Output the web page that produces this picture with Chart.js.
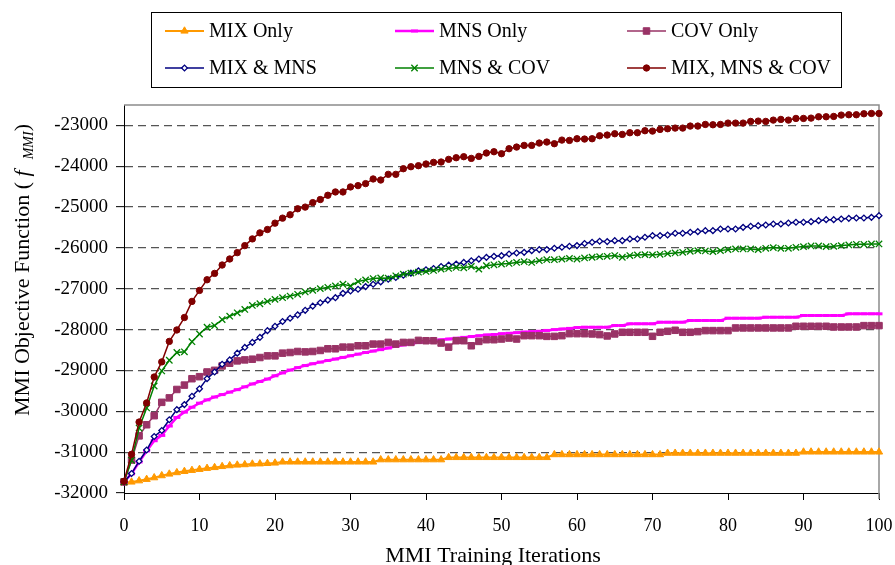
<!DOCTYPE html>
<html>
<head>
<meta charset="utf-8">
<title>MMI Objective Function</title>
<script src="https://cdn.jsdelivr.net/npm/chart.js@4.4.1/dist/chart.umd.min.js"></script>
<style>
  html, body { margin: 0; padding: 0; background: #fff; }
  #wrap { width: 895px; height: 565px; }
</style>
</head>
<body>
<div id="wrap"><canvas id="mmiChart" width="895" height="565"></canvas></div>
<script>
// --- data ---
const iterations = [];
for (let i = 0; i <= 100; i++) iterations.push(i);

const xTicks = [0, 10, 20, 30, 40, 50, 60, 70, 80, 90, 100];
const yTicks = [-32000, -31000, -30000, -29000, -28000, -27000, -26000, -25000, -24000, -23000];

const seriesNames = ['MIX Only', 'MNS Only', 'COV Only', 'MIX & MNS', 'MNS & COV', 'MIX, MNS & COV'];

const mixOnly = [
  -31750, -31730, -31700, -31665, -31625, -31575, -31535, -31500, -31470, -31445,
  -31420, -31395, -31375, -31350, -31330, -31315, -31305, -31290, -31285, -31275,
  -31265, -31240, -31240, -31240, -31240, -31240, -31240, -31240, -31240, -31240,
  -31240, -31240, -31240, -31240, -31185, -31185, -31185, -31185, -31185, -31185,
  -31185, -31185, -31185, -31130, -31130, -31130, -31130, -31130, -31130, -31130,
  -31130, -31130, -31130, -31130, -31130, -31130, -31130, -31060, -31060, -31060,
  -31060, -31060, -31060, -31060, -31060, -31060, -31060, -31060, -31060, -31060,
  -31060, -31060, -31025, -31025, -31025, -31025, -31025, -31025, -31025, -31025,
  -31025, -31025, -31025, -31025, -31025, -31025, -31025, -31025, -31025, -31025,
  -30995, -30995, -30995, -30995, -30995, -30995, -30995, -30995, -30995, -30995,
  -30995
];

const mnsOnly = [
  -31728, -31530, -31240, -30970, -30720, -30590, -30360, -30150, -30020, -29900,
  -29800, -29720, -29650, -29590, -29530, -29470, -29400, -29330, -29270, -29210,
  -29130, -29060, -28990, -28930, -28880, -28835, -28795, -28755, -28720, -28680,
  -28640, -28600, -28560, -28525, -28490, -28450, -28410, -28375, -28345, -28315,
  -28290, -28270, -28250, -28230, -28210, -28190, -28170, -28150, -28130, -28120,
  -28100, -28090, -28075, -28060, -28050, -28040, -28020, -28000, -27985, -27970,
  -27950, -27940, -27940, -27940, -27940, -27900, -27900, -27858, -27858, -27858,
  -27858, -27817, -27817, -27817, -27817, -27776, -27776, -27776, -27776, -27776,
  -27719, -27719, -27719, -27719, -27719, -27695, -27695, -27695, -27695, -27695,
  -27654, -27654, -27654, -27654, -27654, -27654, -27613, -27613, -27613, -27613,
  -27613
];

const covOnly = [
  -31728, -31193, -30601, -30329, -30107, -29780, -29671, -29465, -29358, -29202,
  -29152, -29037, -28996, -28889, -28823, -28765, -28741, -28724, -28683, -28642,
  -28642, -28576, -28560, -28535, -28545, -28535, -28510, -28469, -28469, -28428,
  -28428, -28395, -28395, -28354, -28354, -28313, -28354, -28313, -28313, -28263,
  -28272, -28272, -28329, -28428, -28272, -28272, -28395, -28288, -28247, -28247,
  -28230, -28206, -28230, -28148, -28148, -28148, -28165, -28165, -28148, -28099,
  -28099, -28100, -28106, -28122, -28155, -28106, -28065, -28065, -28065, -28065,
  -28163, -28065, -28041, -28016, -28065, -28065, -28049, -28024, -28024, -28024,
  -28024, -27959, -27959, -27959, -27959, -27959, -27959, -27959, -27959, -27918,
  -27918, -27918, -27918, -27918, -27935, -27935, -27935, -27935, -27902, -27902,
  -27902
];

const mixMns = [
  -31728, -31523, -31222, -30947, -30617, -30469, -30206, -29959, -29835, -29630,
  -29449, -29200, -29037, -28848, -28741, -28576, -28436, -28313, -28189, -28025,
  -27918, -27802, -27720, -27638, -27527, -27424, -27342, -27276, -27218, -27111,
  -27053, -27012, -26946, -26889, -26831, -26765, -26724, -26667, -26617, -26560,
  -26535, -26502, -26453, -26420, -26395, -26354, -26313, -26272, -26230, -26206,
  -26189, -26148, -26123, -26107, -26066, -26041, -26041, -26008, -25984, -25959,
  -25942, -25890, -25861, -25837, -25845, -25821, -25821, -25780, -25780, -25739,
  -25698, -25698, -25682, -25641, -25641, -25617, -25601, -25576, -25576, -25535,
  -25535, -25535, -25495, -25470, -25454, -25438, -25413, -25413, -25389, -25372,
  -25372, -25356, -25332, -25307, -25307, -25291, -25275, -25266, -25266, -25250,
  -25209
];

const mnsCov = [
  -31730, -31198, -30410, -29917, -29380, -29012, -28750, -28560, -28543, -28296,
  -28107, -27942, -27901, -27753, -27671, -27588, -27506, -27407, -27366, -27309,
  -27259, -27218, -27177, -27136, -27078, -27037, -26996, -26963, -26930, -26889,
  -26930, -26823, -26782, -26749, -26733, -26741, -26683, -26642, -26617, -26593,
  -26576, -26551, -26519, -26502, -26477, -26486, -26453, -26519, -26436, -26412,
  -26395, -26379, -26354, -26337, -26354, -26313, -26288, -26288, -26272, -26255,
  -26272, -26245, -26228, -26212, -26204, -26187, -26228, -26187, -26171, -26163,
  -26171, -26155, -26139, -26122, -26106, -26081, -26065, -26073, -26090, -26065,
  -26041, -26024, -26024, -26024, -26041, -26008, -25992, -26008, -26008, -25984,
  -25967, -25951, -25951, -25967, -25959, -25943, -25927, -25910, -25910, -25902,
  -25902
];

const mixMnsCov = [
  -31712, -31053, -30263, -29794, -29160, -28790, -28288, -28008, -27704, -27309,
  -27040, -26779, -26623, -26418, -26270, -26115, -25943, -25779, -25631, -25549,
  -25393, -25270, -25188, -25041, -25000, -24890, -24815, -24710, -24629, -24629,
  -24506, -24474, -24425, -24311, -24337, -24198, -24198, -24060, -24011, -23986,
  -23945, -23905, -23896, -23831, -23791, -23766, -23807, -23758, -23676, -23644,
  -23693, -23570, -23530, -23489, -23489, -23432, -23407, -23448, -23359, -23367,
  -23326, -23334, -23326, -23253, -23236, -23204, -23220, -23179, -23179, -23130,
  -23139, -23098, -23081, -23065, -23065, -23016, -23016, -22976, -22984, -22976,
  -22943, -22943, -22943, -22902, -22894, -22902, -22870, -22853, -22870, -22829,
  -22829, -22821, -22788, -22788, -22780, -22747, -22739, -22739, -22715, -22707,
  -22707
];

// --- looks ---
const SERIF = '"Liberation Serif", "Times New Roman", serif';
Chart.defaults.font.family = SERIF;
Chart.defaults.color = '#000';

const seriesStyles = [
  { color: '#FF9900', width: 2,   point: 'triangle', radius: 4.2, fill: '#FF9900', pointWidth: 1 },
  { color: '#FF00FF', width: 2.5, point: 'line',     radius: 3.5, fill: '#FF00FF', pointWidth: 3 },
  { color: '#993366', width: 1.5, point: 'rect',     radius: 4.6, fill: '#993366', pointWidth: 1 },
  { color: '#000080', width: 1.5, point: 'rectRot',  radius: 2.9, fill: '#FFFFFF', pointWidth: 1.3 },
  { color: '#008000', width: 1.5, point: 'crossRot', radius: 4.5, fill: '#008000', pointWidth: 1.3 },
  { color: '#800000', width: 1.5, point: 'circle',   radius: 3.2, fill: '#800000', pointWidth: 1 }
];

function makeSeries(idx, values) {
  const st = seriesStyles[idx];
  return {
    label: seriesNames[idx],
    data: values.map((v, i) => ({ x: iterations[i], y: v })),
    borderColor: st.color,
    backgroundColor: st.fill,
    borderWidth: st.width,
    pointStyle: st.point,
    pointRadius: st.radius,
    pointHoverRadius: st.radius,
    pointBackgroundColor: st.fill,
    pointBorderColor: st.color,
    pointBorderWidth: st.pointWidth,
    tension: 0,
    clip: false,
    order: seriesNames.length - idx   // later series drawn on top
  };
}

// legend drawn as a boxed 3x2 grid above the plot
const LEGEND_BOX = { x: 151.5, y: 12.5, w: 690, h: 75 };
const LEGEND_COL_X = [165, 395, 627];
const LEGEND_ROW_Y = [31, 68];

const boxedLegend = {
  id: 'boxedLegend',
  afterDraw(chart) {
    const ctx = chart.ctx;
    ctx.save();
    ctx.strokeStyle = '#000';
    ctx.lineWidth = 1;
    ctx.strokeRect(LEGEND_BOX.x, LEGEND_BOX.y, LEGEND_BOX.w, LEGEND_BOX.h);

    chart.data.datasets.forEach((ds, i) => {
      const x0 = LEGEND_COL_X[i % 3];
      const y = LEGEND_ROW_Y[Math.floor(i / 3)];
      ctx.strokeStyle = ds.borderColor;
      ctx.lineWidth = ds.borderWidth;
      ctx.setLineDash([]);
      ctx.beginPath();
      ctx.moveTo(x0, y);
      ctx.lineTo(x0 + 39, y);
      ctx.stroke();

      ctx.fillStyle = ds.pointBackgroundColor;
      ctx.strokeStyle = ds.pointBorderColor;
      ctx.lineWidth = ds.pointBorderWidth;
      Chart.helpers.drawPoint(ctx, {
        pointStyle: ds.pointStyle,
        radius: ds.pointRadius,
        borderWidth: ds.pointBorderWidth,
        rotation: 0
      }, x0 + 19.5, y);

      ctx.fillStyle = '#000';
      ctx.font = '20px ' + SERIF;
      ctx.textAlign = 'left';
      ctx.textBaseline = 'middle';
      ctx.fillText(ds.label, x0 + 44, y + 1);
    });
    ctx.restore();
  }
};

// axis titles, the y one carries an italic subscript
const axisTitles = {
  id: 'axisTitles',
  afterDraw(chart) {
    const ctx = chart.ctx;
    ctx.save();
    ctx.fillStyle = '#000';
    ctx.textBaseline = 'alphabetic';

    ctx.font = '22px ' + SERIF;
    ctx.textAlign = 'center';
    ctx.fillText('MMI Training Iterations', 493, 562);

    const parts = [
      { t: 'MMI Objective Function ( ', f: '22px ' + SERIF, dy: 0 },
      { t: 'f', f: 'italic 22px ' + SERIF, dy: 0 },
      { t: '  ', f: '22px ' + SERIF, dy: 0 },
      { t: 'MMI', f: 'italic 14px ' + SERIF, dy: 4 },
      { t: ')', f: '22px ' + SERIF, dy: 0 }
    ];
    let total = 0;
    parts.forEach(p => { ctx.font = p.f; p.w = ctx.measureText(p.t).width; total += p.w; });
    ctx.translate(22, 270);
    ctx.rotate(-Math.PI / 2);
    ctx.textAlign = 'left';
    let x = -total / 2;
    parts.forEach(p => {
      ctx.font = p.f;
      ctx.fillText(p.t, x, 7 + p.dy);
      x += p.w;
    });
    ctx.restore();
  }
};

// grey frame on the top and right of the plot area
const plotFrame = {
  id: 'plotFrame',
  beforeDatasetsDraw(chart) {
    const { ctx, chartArea: a } = chart;
    ctx.save();
    ctx.strokeStyle = '#8C8C8C';
    ctx.lineWidth = 1.5;
    ctx.beginPath();
    ctx.moveTo(a.left, a.top);
    ctx.lineTo(a.right, a.top);
    ctx.lineTo(a.right, a.bottom + 6);
    ctx.stroke();
    ctx.restore();
  }
};

new Chart(document.getElementById('mmiChart'), {
  type: 'line',
  data: {
    datasets: [
      makeSeries(0, mixOnly),
      makeSeries(1, mnsOnly),
      makeSeries(2, covOnly),
      makeSeries(3, mixMns),
      makeSeries(4, mnsCov),
      makeSeries(5, mixMnsCov)
    ]
  },
  options: {
    responsive: false,
    devicePixelRatio: 1,
    animation: false,
    events: [],
    layout: { padding: { left: 0, top: 105, right: 16, bottom: 0 } },
    plugins: {
      legend: { display: false },
      tooltip: { enabled: false }
    },
    scales: {
      x: {
        type: 'linear',
        min: xTicks[0],
        max: xTicks[xTicks.length - 1],
        afterBuildTicks: s => { s.ticks = xTicks.map(v => ({ value: v })); },
        afterFit: s => { s.height = 72; s.paddingLeft = 0; s.paddingRight = 0; },
        ticks: { font: { size: 18 }, color: '#000', padding: 15, maxRotation: 0, autoSkip: false },
        grid: { drawOnChartArea: false, drawTicks: true, tickLength: 7, tickColor: '#000', tickWidth: 1 },
        border: { color: '#000', width: 1 }
      },
      y: {
        min: -32000,
        max: -22500,
        afterBuildTicks: s => { s.ticks = yTicks.map(v => ({ value: v })); },
        afterFit: s => { s.width = 124; s.paddingTop = 0; s.paddingBottom = 0; },
        ticks: { font: { size: 19 }, color: '#000', padding: 8, callback: v => String(v) },
        grid: {
          color: c => (c.tick && c.tick.value === yTicks[0]) ? 'rgba(0,0,0,0)' : '#555',
          lineWidth: 1.3,
          tickLength: 8,
          tickColor: '#000',
          tickWidth: 1,
          tickBorderDash: []
        },
        border: { color: '#000', width: 1, dash: [8, 5] }
      }
    }
  },
  plugins: [plotFrame, boxedLegend, axisTitles]
});
</script>
</body>
</html>
